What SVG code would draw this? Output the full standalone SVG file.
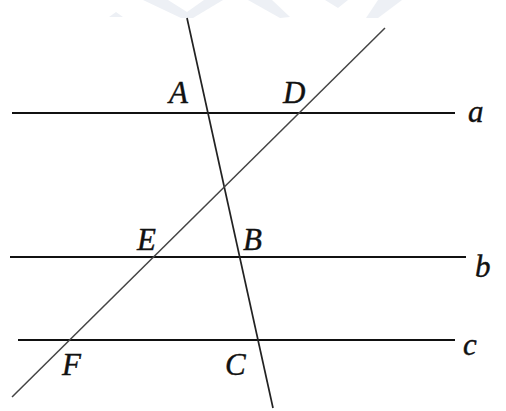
<svg xmlns="http://www.w3.org/2000/svg" width="506" height="411" viewBox="0 0 506 411">
<style>
.wm{fill:#edf0f5;stroke:none}
.h{stroke:#111;stroke-width:2.2;fill:none}
.d{stroke:#222;stroke-width:1.7;fill:none}
.d2{stroke:#444;stroke-width:1.5;fill:none}
.lbl{font-family:"Liberation Serif","Times New Roman",serif;font-style:italic;font-size:31px;fill:#111;stroke:#111;stroke-width:0.4}
</style>
<rect width="506" height="411" fill="#fff"/>
<g id="watermark">
<polygon class="wm" points="109,17 116,12 123,17"/>
<polygon class="wm" points="143,0 168,0 187,12 204,0 223,0 193,18 181,18"/>
<polygon class="wm" points="248,0 272,0 290,17 280,18"/>
<polygon class="wm" points="325,0 348,0 338,8"/>
<polygon class="wm" points="378,0 402,0 378,18 366,18"/>
</g>
<g id="connectors">
<line id="line-a" class="h" x1="12" y1="113" x2="455" y2="113"/>
<line id="line-b" class="h" x1="10" y1="257" x2="466" y2="257"/>
<line id="line-c" class="h" x1="18" y1="340" x2="455" y2="340"/>
<line id="line-AC" class="d" x1="187" y1="18" x2="273" y2="408"/>
<line id="line-DF" class="d2" x1="385" y1="28" x2="12" y2="397"/>
</g>
<g id="label-A"><text class="lbl" x="169" y="103">A</text></g>
<g id="label-D"><text class="lbl" x="283" y="103">D</text></g>
<g id="label-a"><text class="lbl" x="468" y="122">a</text></g>
<g id="label-E"><text class="lbl" x="137" y="250">E</text></g>
<g id="label-B"><text class="lbl" x="243" y="250">B</text></g>
<g id="label-b"><text class="lbl" x="475" y="277">b</text></g>
<g id="label-F"><text class="lbl" x="62" y="375">F</text></g>
<g id="label-C"><text class="lbl" x="225" y="375">C</text></g>
<g id="label-c"><text class="lbl" x="463" y="355">c</text></g>
</svg>
